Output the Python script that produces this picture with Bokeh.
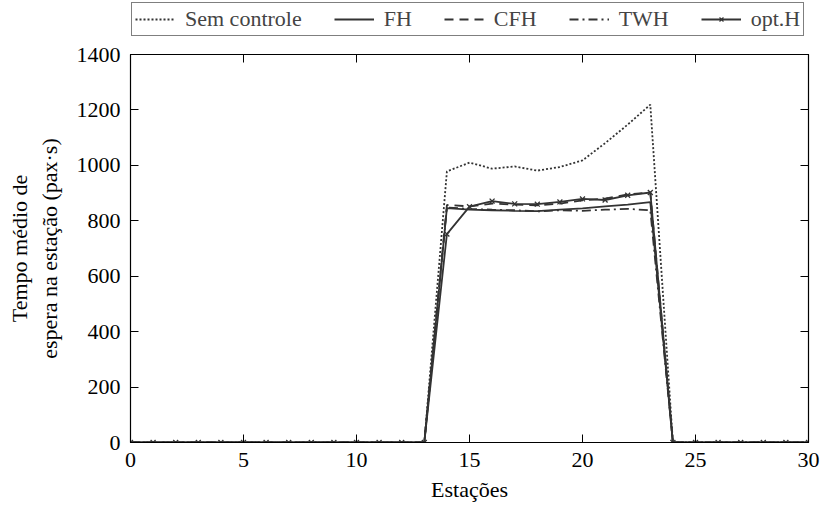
from bokeh.plotting import figure
from bokeh.layouts import column
from bokeh.models import Range1d, LinearAxis, Legend, LegendItem, FixedTicker
from bokeh.embed import file_html
from bokeh.resources import INLINE

stations = list(range(0, 31))
z13 = [0] * 14
z7 = [0] * 7
sem_controle = z13 + [978, 1010, 988, 996, 981, 994, 1018, 1080, 1147, 1219] + z7
fh = z13 + [846, 840, 838, 836, 835, 840, 845, 852, 858, 867] + z7
cfh = z13 + [857, 852, 862, 858, 856, 862, 874, 880, 895, 902] + z7
twh = z13 + [848, 843, 840, 838, 834, 838, 836, 840, 843, 838] + z7
opt_h = z13 + [752, 851, 871, 861, 860, 868, 879, 875, 892, 902] + z7

series_names = ["Sem controle", "FH", "CFH", "TWH", "opt.H"]
x_ticks = [0, 5, 10, 15, 20, 25, 30]
y_ticks = [0, 200, 400, 600, 800, 1000, 1200, 1400]

FONT = "Liberation Serif"
C = "#333333"
DASHES = ["2 2", "solid", "9 6", "9 4 2 4", "solid"]
ALL = [sem_controle, fh, cfh, twh, opt_h]

p = figure(width=823, height=467, output_backend="svg", toolbar_location=None,
           x_range=Range1d(0, 30), y_range=Range1d(0, 1400),
           min_border_left=130, min_border_right=15, min_border_top=14, min_border_bottom=65)
p.grid.visible = False
p.outline_line_color = "black"
p.outline_line_width = 1.2

for ys, d in zip(ALL, DASHES):
    p.line(stations, ys, line_color=C, line_width=1.8, line_dash=d)
p.scatter(stations, opt_h, marker="x", size=7, line_color=C, line_width=1.3)

for ax in [p.xaxis[0], p.yaxis[0]]:
    ax.major_tick_in = 8
    ax.major_tick_out = 0
    ax.minor_tick_line_color = None
    ax.axis_line_color = "black"
    ax.major_label_text_font = FONT
    ax.major_label_text_font_size = "22px"
    ax.axis_label_text_font = FONT
    ax.axis_label_text_font_size = "22px"
    ax.axis_label_text_font_style = "normal"
    ax.major_label_text_color = "black"
    ax.axis_label_text_color = "black"

p.xaxis[0].ticker = FixedTicker(ticks=x_ticks)
p.yaxis[0].ticker = FixedTicker(ticks=y_ticks)
p.xaxis[0].axis_label = "Estações"
p.yaxis[0].axis_label = "Tempo médio de\nespera na estação (pax·s)"
p.xaxis[0].axis_label_standoff = 7
p.yaxis[0].axis_label_standoff = 12
p.xaxis[0].major_label_standoff = 10
p.yaxis[0].major_label_standoff = 10

ax_r = LinearAxis(ticker=FixedTicker(ticks=y_ticks), major_label_overrides={t: "" for t in y_ticks},
                  major_tick_in=8, major_tick_out=0, minor_tick_line_color=None)
ax_t = LinearAxis(ticker=FixedTicker(ticks=x_ticks), major_label_overrides={t: "" for t in x_ticks},
                  major_tick_in=8, major_tick_out=0, minor_tick_line_color=None)
p.add_layout(ax_r, "right")
p.add_layout(ax_t, "above")

# legend strip above the plot (its series sit outside its visible range)
lg = figure(width=823, height=40, output_backend="svg", toolbar_location=None,
            x_range=Range1d(100, 101), y_range=Range1d(0, 1),
            min_border_left=0, min_border_right=0, min_border_top=0, min_border_bottom=0)
lg.axis.visible = False
lg.grid.visible = False
lg.outline_line_color = None
items = []
for name, ys, d in zip(series_names, ALL, DASHES):
    rs = [lg.line(stations, ys, line_color=C, line_width=1.8, line_dash=d)]
    if name == "opt.H":
        rs.append(lg.scatter(stations, ys, marker="x", size=7, line_color=C, line_width=1.3))
    items.append(LegendItem(label=name, renderers=rs))
legend = Legend(items=items, orientation="horizontal", location=(1, 4),
                label_text_font=FONT, label_text_font_size="22px",
                border_line_color="black", border_line_width=1.2,
                glyph_width=40, glyph_height=14, label_standoff=10, spacing=32,
                padding=3, margin=0, background_fill_alpha=1)
lg.add_layout(legend)

open("out.html", "w").write(file_html(column(lg, p, spacing=0), INLINE))
